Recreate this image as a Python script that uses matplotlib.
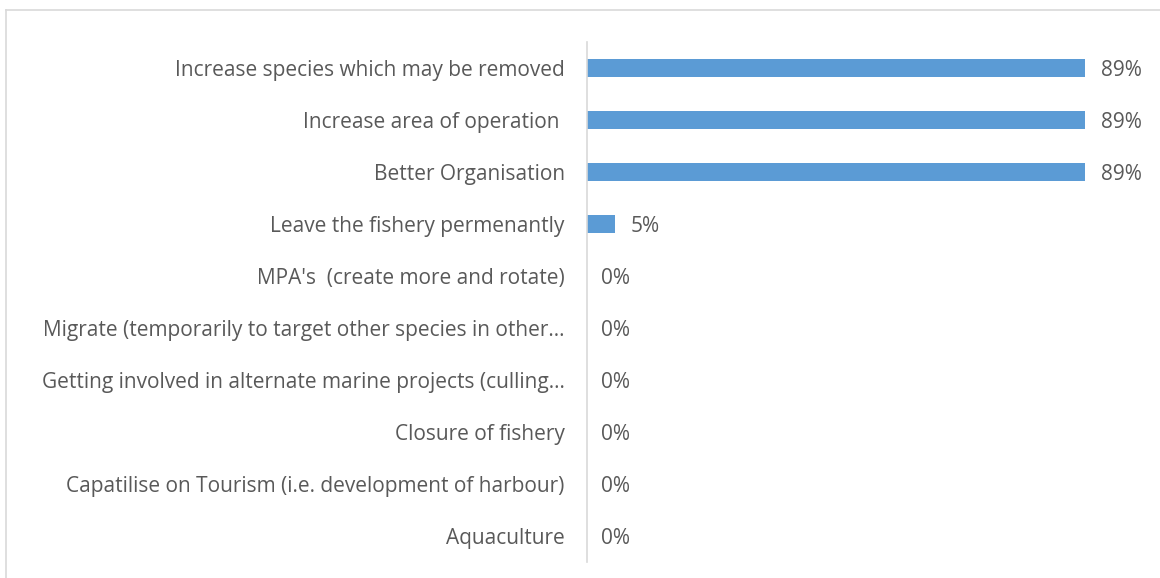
import matplotlib
matplotlib.use("Agg")
import matplotlib.pyplot as plt
from matplotlib.lines import Line2D

categories = [
    "Increase species which may be removed",
    "Increase area of operation ",
    "Better Organisation",
    "Leave the fishery permenantly",
    "MPA's  (create more and rotate)",
    "Migrate (temporarily to target other species in other\u2026",
    "Getting involved in alternate marine projects (culling\u2026",
    "Closure of fishery",
    "Capatilise on Tourism (i.e. development of harbour)",
    "Aquaculture",
]
values = [89, 89, 89, 5, 0, 0, 0, 0, 0, 0]

plt.rcParams["font.family"] = ["Open Sans", "DejaVu Sans"]
text_color = "#595959"
bar_color = "#5b9bd5"

fig = plt.figure(figsize=(11.6, 5.78), dpi=100)
W, H = 1160, 578

# chart-area frame (only left and top edges fall inside the canvas)
fig.add_artist(Line2D([6 / W, 6 / W], [0, 1 - 10 / H], transform=fig.transFigure,
                      color="#d9d9d9", lw=1.2))
fig.add_artist(Line2D([6 / W, 1], [1 - 10 / H, 1 - 10 / H], transform=fig.transFigure,
                      color="#d9d9d9", lw=1.2))

ax = fig.add_axes([587 / W, 1 - 562 / H, (1147 - 587) / W, (562 - 42) / H])
n = len(categories)
ypos = list(range(n))
ax.barh(ypos, values, height=0.35, color=bar_color, zorder=2)
ax.set_xlim(0, 100)
ax.set_ylim(n - 0.5, -0.5)

ax.set_yticks(ypos)
ax.set_yticklabels(categories, fontsize=15, color=text_color)
ax.tick_params(axis="y", length=0, pad=16)
ax.set_xticks([])

for s in ["top", "right", "bottom"]:
    ax.spines[s].set_visible(False)
ax.spines["left"].set_color("#d9d9d9")
ax.spines["left"].set_linewidth(1.2)

for y, v in zip(ypos, values):
    ax.annotate(f"{v}%", (v, y), xytext=(16 if v > 0 else 14, -3), textcoords="offset pixels",
                ha="left", va="center", fontsize=15, color=text_color)

fig.savefig("out.png", dpi=100)
